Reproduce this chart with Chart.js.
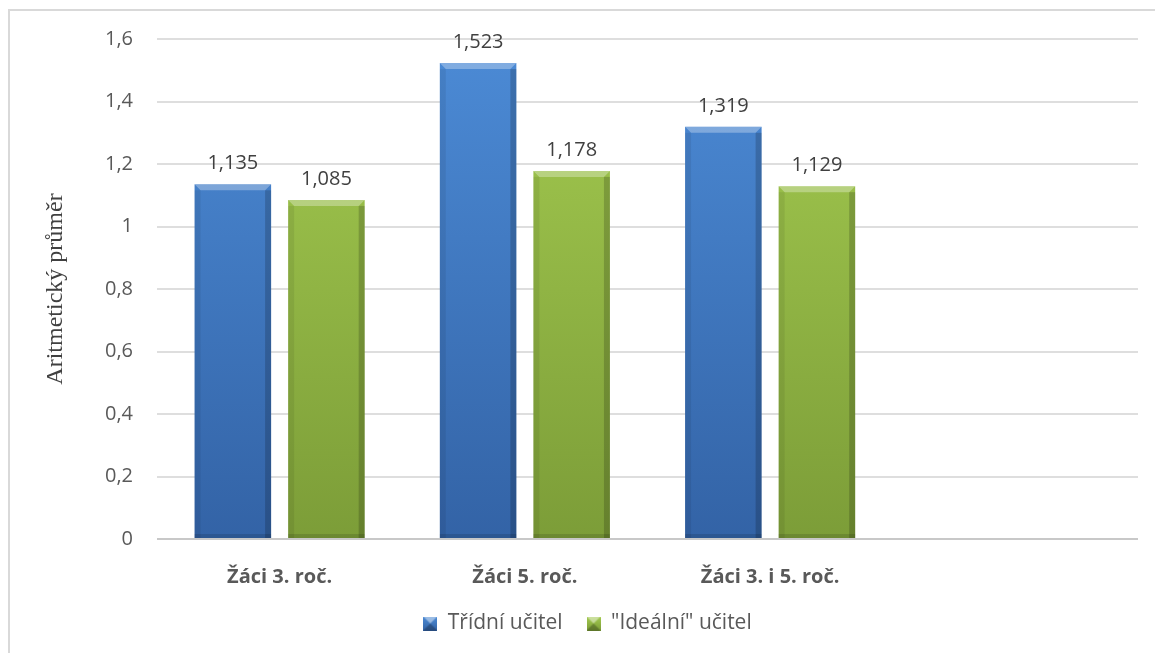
<!DOCTYPE html>
<html>
<head>
<meta charset="utf-8">
<script src="https://cdn.jsdelivr.net/npm/chart.js@4/dist/chart.umd.min.js"></script>
<style>
  html, body { margin: 0; padding: 0; background: #fff; }
  #wrap { position: relative; width: 1155px; height: 653px; }
  #frame { position: absolute; left: 8px; top: 9px; right: -2px; bottom: -2px; border-left: 2px solid #d9d9d9; border-top: 2px solid #d9d9d9; }
  canvas { position: absolute; left: 0; top: 0; }
</style>
</head>
<body>
<div id="wrap">
  <div id="frame"></div>
  <canvas id="chart" width="1155" height="653"></canvas>
</div>
<script>
// data
const categories = ['Žáci 3. roč.', 'Žáci 5. roč.', 'Žáci 3. i 5. roč.', ''];
const seriesNames = ['Třídní učitel', '"Ideální" učitel'];
const tridniUcitel = [1.135, 1.523, 1.319, null];
const idealniUcitel = [1.085, 1.178, 1.129, null];
const yTicks = [0, 0.2, 0.4, 0.6, 0.8, 1, 1.2, 1.4, 1.6];

const palette = [
  { top: '#4c8bd6', bottom: '#3363a6', light: 'rgba(255,255,255,0.30)', dark: 'rgba(0,0,0,0.18)' },
  { top: '#a4cb50', bottom: '#7c9d38', light: 'rgba(255,255,255,0.30)', dark: 'rgba(0,0,0,0.18)' }
];

function barFill(idx) {
  return function (ctx) {
    const chart = ctx.chart;
    const area = chart.chartArea;
    if (!area) return palette[idx].top;
    const g = chart.ctx.createLinearGradient(0, area.top, 0, area.bottom);
    g.addColorStop(0, palette[idx].top);
    g.addColorStop(1, palette[idx].bottom);
    return g;
  };
}

function legendIcon(idx) {
  const c = document.createElement('canvas');
  c.width = 14; c.height = 14;
  const x = c.getContext('2d');
  const g = x.createLinearGradient(0, 0, 0, 14);
  g.addColorStop(0, palette[idx].top);
  g.addColorStop(1, palette[idx].bottom);
  x.fillStyle = g;
  x.fillRect(0, 0, 14, 14);
  x.fillStyle = 'rgba(255,255,255,0.45)';
  x.beginPath(); x.moveTo(0, 0); x.lineTo(14, 0); x.lineTo(7, 7); x.closePath(); x.fill();
  x.fillStyle = 'rgba(0,0,0,0.25)';
  x.beginPath(); x.moveTo(0, 14); x.lineTo(14, 14); x.lineTo(7, 7); x.closePath(); x.fill();
  return c;
}

// draws the bevel edges and the value label on each bar
const bevelPlugin = {
  id: 'bevel',
  afterDatasetsDraw(chart) {
    const ctx = chart.ctx;
    chart.data.datasets.forEach((ds, di) => {
      const meta = chart.getDatasetMeta(di);
      meta.data.forEach((bar, i) => {
        if (ds.data[i] == null) return;
        const x0 = bar.x - bar.width / 2, x1 = bar.x + bar.width / 2;
        const y = bar.y, b = bar.base, d = 6;
        ctx.save();
        ctx.fillStyle = palette[di].light;
        ctx.beginPath();
        ctx.moveTo(x0, y); ctx.lineTo(x1, y); ctx.lineTo(x1 - d, y + d); ctx.lineTo(x0 + d, y + d);
        ctx.closePath(); ctx.fill();
        ctx.fillStyle = 'rgba(0,0,0,0.07)';
        ctx.fillRect(x0, y + d, d, b - y - d);
        ctx.fillStyle = palette[di].dark;
        ctx.fillRect(x1 - d, y + d, d, b - y - d);
        ctx.fillStyle = 'rgba(0,0,0,0.12)';
        ctx.fillRect(x0, b - 4, x1 - x0, 4);
        ctx.fillStyle = '#404040';
        ctx.font = '20px "Open Sans", sans-serif';
        ctx.textAlign = 'center';
        ctx.textBaseline = 'bottom';
        ctx.fillText(ds.data[i].toFixed(3).replace('.', ','), bar.x, y - 11);
        ctx.restore();
      });
    });
  }
};

new Chart(document.getElementById('chart'), {
  type: 'bar',
  data: {
    labels: categories,
    datasets: [
      { label: seriesNames[0], data: tridniUcitel, backgroundColor: barFill(0), pointStyle: legendIcon(0) },
      { label: seriesNames[1], data: idealniUcitel, backgroundColor: barFill(1), pointStyle: legendIcon(1) }
    ]
  },
  options: {
    responsive: false,
    animation: false,
    categoryPercentage: 0.763,
    barPercentage: 0.818,
    layout: { padding: { left: 37, right: 17, top: 39, bottom: 9 } },
    plugins: {
      tooltip: { enabled: false },
      legend: {
        position: 'bottom',
        labels: {
          usePointStyle: true,
          color: '#595959',
          font: { family: '"Open Sans", sans-serif', size: 21 },
          padding: 24,
          boxWidth: 14,
          boxHeight: 14
        }
      }
    },
    scales: {
      x: {
        afterFit(scale) { scale.height = 50; },
        grid: { display: false },
        border: { display: false },
        ticks: {
          color: '#595959',
          font: { family: '"Open Sans", sans-serif', size: 20, weight: 'bold' },
          padding: 18
        }
      },
      y: {
        min: 0,
        max: 1.6,
        afterBuildTicks(scale) { scale.ticks = yTicks.map(v => ({ value: v })); },
        afterFit(scale) { scale.width = 120; },
        grid: {
          drawTicks: false,
          lineWidth: 2,
          color: (ctx) => ctx.tick && ctx.tick.value === 0 ? '#c8c8c8' : '#dedede'
        },
        border: { display: false },
        ticks: {
          color: '#595959',
          font: { family: '"Open Sans", sans-serif', size: 20 },
          padding: 24,
          callback: (v) => String(Math.round(v * 10) / 10).replace('.', ',')
        },
        title: {
          display: true,
          text: 'Aritmetický průměr',
          color: '#404040',
          font: { family: '"Liberation Serif", serif', size: 24 },
          padding: { top: 4, bottom: 0 }
        }
      }
    }
  },
  plugins: [bevelPlugin]
});
</script>
</body>
</html>
